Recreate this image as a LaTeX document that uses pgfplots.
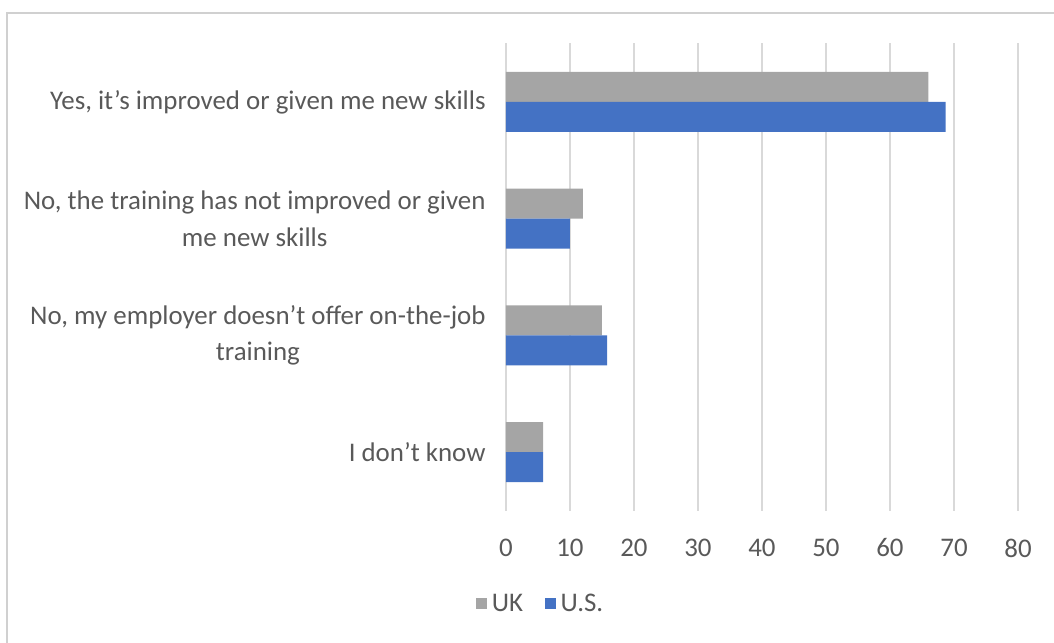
\documentclass[border=0pt]{standalone}
\usepackage{pgfplots}
\pgfplotsset{compat=1.18}
\usepackage{fontspec}
\setmainfont{Carlito}
\definecolor{ukgray}{HTML}{A5A5A5}
\definecolor{usblue}{HTML}{4472C4}
\definecolor{txt}{HTML}{595959}
\definecolor{gridc}{HTML}{D9D9D9}
\definecolor{framec}{HTML}{D0D0D0}
\begin{document}
\begin{tikzpicture}
\useasboundingbox (-506bp,-132.5bp) rectangle (548bp,510.5bp);
\draw[framec, line width=2bp] (-498.5bp,-150bp) |- (570bp,497.5bp);
\begin{axis}[
  at={(0,0)}, anchor=south west,
  scale only axis, width=512bp, height=467bp,
  xbar,
  xmin=0, xmax=80, ymin=-0.5, ymax=3.5,
  xtick={0,10,...,80}, ytick={0,1,2,3},
  yticklabels={{I don’t know},{No, my employer doesn’t offer on-the-job\\training},{No, the training has not improved or given\\me new skills},{Yes, it’s improved or given me new skills}},
  axis line style={draw=none},
  tick style={draw=none},
  xmajorgrids, major grid style={gridc, line width=1.2bp},
  /pgf/number format/assume math mode=true,
  tick label style={font=\fontsize{27}{37}\selectfont, text=txt, inner sep=0pt},
  yticklabel style={align=center},
  yticklabel shift=16bp,
  xticklabel shift=28bp,
  legend style={at={(0.068,-0.2)}, anchor=center, draw=none, fill=none,
    legend columns=2, font=\fontsize{27}{30}\selectfont, text=txt,
    /tikz/every odd column/.append style={column sep=3bp},
    /tikz/every even column/.append style={column sep=20bp}},
  legend image code/.code={\fill[#1] (0bp,-5.5bp) rectangle (10.5bp,5.5bp);},
]
\addplot[fill=ukgray, draw=none, bar shift=15bp, bar width=30bp] coordinates {(66,3) (12,2) (15,1) (5.8,0)};
\addplot[fill=usblue, draw=none, bar shift=-15bp, bar width=30bp] coordinates {(68.7,3) (10,2) (15.8,1) (5.8,0)};
\legend{UK, U.S.}
\end{axis}
\end{tikzpicture}
\end{document}
